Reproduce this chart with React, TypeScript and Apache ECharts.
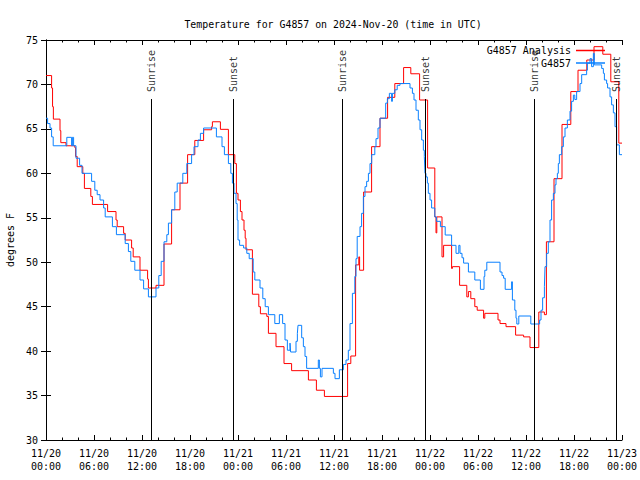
import React, { useEffect, useRef } from 'react';
import * as echarts from 'echarts';

const FONT = "'DejaVu Sans Mono', 'Liberation Mono', monospace";
const FS = 10;

const TITLE = 'Temperature for G4857 on 2024-Nov-20 (time in UTC)';
const Y_NAME = 'degrees F';
const ANALYSIS_NAME = 'G4857 Analysis';
const OBS_NAME = 'G4857';

// x axis: hours since 2024-11-20 00:00 UTC
const xTickLabels = [
  '11/20\n00:00', '11/20\n06:00', '11/20\n12:00', '11/20\n18:00',
  '11/21\n00:00', '11/21\n06:00', '11/21\n12:00', '11/21\n18:00',
  '11/22\n00:00', '11/22\n06:00', '11/22\n12:00', '11/22\n18:00',
  '11/23\n00:00',
];

const sunHours = [13.2, 23.42, 37.06, 47.45, 61.04, 71.33];
const sunNames = ['Sunrise', 'Sunset', 'Sunrise', 'Sunset', 'Sunrise', 'Sunset'];

// [hour, degF] step starts
const analysisData: [number, number][] = [
  [0, 71.0], [0.7, 69.6], [0.82, 67.5], [0.92, 66.1], [1.75, 64.8], [1.85, 63.45], [2.5, 63.1],
  [3.6, 62.9], [3.7, 61.9], [3.9, 60.75], [4.6, 60.0], [4.8, 58.3], [5.6, 57.4], [5.8, 56.5],
  [7.7, 55.7], [8.75, 54.75], [8.9, 54.0], [9.7, 53.25], [9.9, 52.5], [10.7, 51.6], [10.9, 50.6],
  [11.75, 49.1], [12.7, 48.1], [12.8, 47.1], [13.75, 47.4], [14.75, 52.05], [15.7, 55.9],
  [16.75, 58.9], [17.7, 62.1], [18.6, 63.7], [19.7, 64.9], [20.7, 65.25], [20.8, 65.8],
  [21.8, 64.95], [22.8, 62.1], [23.6, 61.1], [23.8, 57.75], [24.0, 57.0], [24.3, 55.7],
  [24.5, 54.75], [24.75, 53.6], [24.9, 52.7], [25.0, 51.4], [25.8, 46.4], [26.6, 45.0],
  [26.8, 44.2], [27.6, 43.9], [27.8, 42.0], [28.75, 40.5], [29.75, 38.6], [30.7, 37.8],
  [32.8, 36.75], [33.8, 35.6], [34.8, 34.9], [37.7, 38.6], [38.1, 39.45], [38.7, 49.7],
  [39.1, 50.6], [39.2, 49.1], [39.7, 57.9], [40.7, 63.0], [41.75, 66.2], [42.7, 68.55],
  [43.6, 70.1], [44.7, 71.9], [45.6, 71.2], [46.7, 68.25], [47.7, 60.6], [48.6, 55.1],
  [48.75, 53.3], [48.85, 55.1], [49.5, 50.6], [49.7, 51.9], [50.7, 49.3], [50.8, 49.5],
  [51.7, 47.4], [52.6, 46.1], [52.8, 46.7], [53.1, 45.9], [53.6, 45.0], [53.9, 44.6],
  [54.7, 43.7], [54.85, 44.25], [56.5, 43.5], [56.75, 43.1], [57.5, 42.75], [58.7, 41.8],
  [59.7, 41.6], [60.5, 40.4], [61.6, 44.4], [62.3, 44.1], [62.55, 52.3], [63.5, 59.4],
  [64.5, 65.5], [65.6, 69.2], [66.5, 71.6], [67.6, 72.75], [68.5, 74.25], [69.6, 73.4],
  [70.6, 70.3], [71.6, 63.4], [72, 63.4],
];

const observedData: [number, number][] = [
  [0, 66.2], [0.2, 65.6], [0.5, 65.1], [0.7, 64.1], [0.9, 63.1], [2.6, 64.05], [3.2, 63.1],
  [3.3, 64.05], [3.45, 63.1], [3.75, 61.7], [4.2, 60.9], [4.5, 60.0], [5.7, 59.1], [6.1, 58.1],
  [6.4, 57.6], [6.75, 57.0], [7.2, 56.1], [7.4, 55.1], [8.3, 54.0], [8.8, 53.1], [9.9, 52.1],
  [10.3, 51.2], [10.6, 50.1], [11.1, 49.1], [11.75, 48.0], [12.2, 47.0], [12.8, 46.1],
  [13.75, 47.1], [14.1, 48.5], [14.4, 50.1], [14.75, 52.3], [15.1, 53.1], [15.3, 54.4],
  [15.7, 55.9], [16.1, 57.9], [16.4, 58.9], [17.1, 60.0], [17.6, 61.1], [18.2, 62.1],
  [18.5, 63.0], [19.0, 63.75], [19.3, 64.5], [19.7, 65.1], [21.3, 64.1], [22.0, 63.0],
  [22.3, 62.1], [22.8, 61.1], [23.1, 60.0], [23.3, 58.9], [23.5, 57.75], [23.75, 56.6],
  [23.9, 54.75], [24.0, 52.5], [24.2, 51.9], [24.7, 51.6], [25.1, 51.0], [25.4, 50.4],
  [25.9, 48.9], [26.1, 48.0], [26.75, 47.1], [27.1, 45.9], [27.4, 45.0], [27.8, 44.1],
  [28.6, 43.1], [29.17, 44.1], [29.58, 43.1], [29.875, 41.25], [30.17, 40.1], [30.5, 40.9],
  [30.58, 39.9], [31.25, 41.1], [31.42, 42.0], [31.5, 42.9], [31.96, 41.5], [32.17, 40.5],
  [32.375, 39.4], [32.58, 38.06], [34.04, 39.0], [34.17, 38.06], [34.3, 37.1], [34.5, 38.06],
  [35.92, 37.5], [36.125, 36.9], [36.67, 37.9], [37.17, 38.5], [37.5, 39.0], [37.79, 40.1],
  [38.0, 43.1], [38.3, 46.5], [38.6, 48.4], [38.75, 50.4], [38.9, 52.9], [39.25, 54.0],
  [39.45, 55.5], [39.67, 57.4], [39.875, 58.5], [40.08, 59.1], [40.3, 60.0], [40.5, 61.1],
  [40.71, 62.1], [41.1, 63.0], [41.25, 63.9], [41.5, 65.1], [41.75, 66.2], [42.46, 67.9],
  [42.67, 68.4], [42.92, 69.0], [43.2, 68.1], [43.3, 69.0], [43.6, 69.4], [43.9, 69.9],
  [44.25, 70.1], [45.5, 69.6], [45.8, 69.0], [46.0, 68.25], [46.25, 67.1], [46.54, 66.0],
  [46.75, 64.9], [46.96, 63.75], [47.17, 62.6], [47.29, 61.9], [47.375, 60.0], [47.5, 59.6],
  [47.67, 58.9], [47.79, 57.75], [48.0, 57.0], [48.2, 56.1], [48.6, 55.1], [48.8, 54.6],
  [49.3, 54.0], [49.9, 53.06], [50.7, 51.9], [51.25, 51.0], [51.6, 51.9], [51.75, 51.0],
  [52.0, 50.5], [52.2, 49.9], [52.8, 48.9], [53.6, 48.0], [54.3, 46.95], [54.75, 48.4],
  [54.85, 49.1], [55.1, 50.0], [56.75, 48.9], [57.0, 48.5], [57.2, 48.2], [57.4, 46.95],
  [58.2, 47.8], [58.3, 45.75], [58.6, 44.6], [58.75, 43.7], [58.85, 43.05], [59.1, 43.95],
  [60.6, 43.05], [61.7, 43.5], [61.875, 44.6], [62.08, 46.0], [62.3, 47.25], [62.375, 49.5],
  [62.58, 51.0], [62.79, 52.3], [63.0, 54.75], [63.2, 57.0], [63.42, 57.75], [63.625, 58.7],
  [63.75, 59.4], [63.92, 60.0], [64.04, 61.1], [64.17, 62.1], [64.46, 63.0], [64.67, 64.1],
  [64.875, 65.1], [65.17, 66.0], [65.5, 67.0], [65.7, 68.1], [65.92, 68.8], [66.1, 68.3],
  [66.33, 69.2], [66.75, 70.1], [66.96, 71.1], [67.58, 71.6], [67.67, 72.4], [68.0, 72.9],
  [68.2, 72.0], [68.42, 73.5], [68.54, 72.2], [69.46, 71.8], [69.67, 71.25], [69.8, 70.5],
  [70.08, 70.1], [70.2, 69.6], [70.5, 68.6], [70.7, 67.7], [70.92, 66.8], [71.125, 65.25],
  [71.33, 63.2], [71.67, 62.1], [72, 62.1],
];

const X_MIN = 0;
const X_MAX = 72;
const X_STEP = 6;
const Y_MIN = 30;
const Y_MAX = 75;
const Y_STEP = 5;
const SUN_LINE_TOP = 68.36;
const SUN_LABEL_BASE = 69.15;

export default function App() {
  const ref = useRef<HTMLDivElement>(null);
  useEffect(() => {
    const chart = echarts.init(ref.current!, null, { renderer: 'svg' });
    const textBase = { fontFamily: FONT, fontSize: FS, color: '#000' };
    const tickCommon = {
      axisLine: { show: true, lineStyle: { color: '#000', width: 1 } },
      axisTick: { show: true, inside: true, length: 5, lineStyle: { color: '#000', width: 1 } },
      splitLine: { show: false },
    };
    const xCommon = {
      type: 'value',
      min: X_MIN,
      max: X_MAX,
      interval: X_STEP,
      ...tickCommon,
      minorTick: { show: true, splitNumber: 3, length: 2.5, lineStyle: { color: '#000', width: 1 } },
    };
    const yCommon = {
      type: 'value',
      min: Y_MIN,
      max: Y_MAX,
      interval: Y_STEP,
      ...tickCommon,
    };
    chart.setOption({
      animation: false,
      backgroundColor: '#fff',
      title: {
        text: TITLE,
        left: 328,
        top: 14,
        textAlign: 'center',
        textStyle: { ...textBase, fontSize: 9.9, fontWeight: 'normal' },
      },
      legend: {
        data: [ANALYSIS_NAME, OBS_NAME],
        orient: 'vertical',
        right: 30,
        top: 40,
        align: 'right',
        icon: 'rect',
        itemWidth: 29,
        itemHeight: 1.5,
        itemGap: 1.5,
        textStyle: { ...textBase, lineHeight: 11 },
      },
      grid: { left: 46, top: 40, right: 18, bottom: 40, show: false, outerBoundsMode: 'none', containLabel: false },
      xAxis: [
        {
          ...xCommon,
          position: 'bottom',
          axisLabel: {
            ...textBase,
            lineHeight: 13,
            margin: 7,
            formatter: (v: number) => xTickLabels[Math.round((v - X_MIN) / X_STEP)] ?? '',
          },
        },
        { ...xCommon, position: 'top', axisLabel: { show: false } },
      ],
      yAxis: [
        {
          ...yCommon,
          position: 'left',
          name: Y_NAME,
          nameLocation: 'middle',
          nameGap: 30,
          nameTextStyle: { ...textBase },
          axisLabel: { ...textBase, margin: 8 },
        },
        { ...yCommon, position: 'right', axisLabel: { show: false } },
      ],
      series: [
        {
          name: ANALYSIS_NAME,
          type: 'line',
          step: 'end',
          data: analysisData,
          showSymbol: false,
          color: '#ff0000',
          lineStyle: { color: '#ff0000', width: 1 },
          z: 3,
        },
        {
          name: OBS_NAME,
          type: 'line',
          step: 'end',
          data: observedData,
          showSymbol: false,
          color: '#0a80ff',
          lineStyle: { color: '#0a80ff', width: 1 },
          z: 4,
        },
        {
          name: 'sun',
          type: 'scatter',
          symbolSize: 0,
          silent: true,
          data: sunHours.map((h, i) => [h, SUN_LABEL_BASE, sunNames[i]]),
          label: {
            show: true,
            position: 'inside',
            rotate: 90,
            align: 'left',
            verticalAlign: 'middle',
            ...textBase,
            formatter: (p: any) => p.data[2],
          },
          markLine: {
            silent: true,
            symbol: ['none', 'none'],
            label: { show: false },
            lineStyle: { color: '#000', width: 1, type: 'solid' },
            data: sunHours.map((h) => [{ coord: [h, Y_MIN] }, { coord: [h, SUN_LINE_TOP] }]),
          },
          z: 5,
        },
      ],
    });
    return () => chart.dispose();
  }, []);
  return <div ref={ref} style={{ position: 'absolute', left: 0, top: 0, width: 640, height: 480 }} />;
}
